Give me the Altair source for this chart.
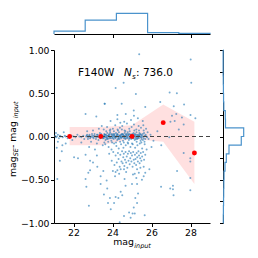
import altair as alt
import pandas as pd

# ---------------- data ----------------
pts_x = [
 21.05,21.10,21.15,21.20,21.25,21.30,21.35,21.45,21.55,21.60,21.70,21.90,22.00,22.10,22.20,22.30,22.40,22.50,22.55,
 21.14,21.43,21.40,21.30,22.03,22.23,22.62,21.94,21.20,21.60,22.40,21.17,21.10,21.50,22.62,
 22.65,22.70,22.75,22.80,22.85,22.90,22.95,23.00,23.05,23.10,23.15,23.20,23.25,23.30,23.35,23.45,23.50,
 22.70,22.90,23.00,23.20,23.30,22.80,23.10,23.00,23.20,22.85,23.17,
 22.66,22.79,22.62,22.76,22.85,23.22,23.53,23.39,23.39,23.60,23.45,23.50,
 23.52,23.55,23.58,23.61,23.64,23.67,23.70,23.73,23.76,23.79,
 23.82,23.85,23.88,23.91,23.94,23.97,24.00,24.03,24.06,24.09,
 24.12,24.15,24.18,24.21,24.24,24.27,24.30,24.33,24.36,24.39,
 24.42,24.45,24.48,24.51,24.54,24.57,24.60,24.63,24.66,24.69,
 24.72,24.75,24.78,24.81,24.84,24.87,24.90,24.93,24.96,24.99,
 25.02,25.05,25.08,25.11,25.14,25.17,25.20,25.23,25.26,25.29,
 25.32,25.35,25.38,25.41,25.44,25.47,25.50,25.55,25.60,25.66,
 23.54,23.62,23.69,23.77,23.84,23.92,23.99,24.05,24.11,24.17,
 24.23,24.29,24.35,24.41,24.47,24.53,24.59,24.65,24.71,24.77,
 24.83,24.89,24.95,25.01,25.07,25.13,25.19,25.25,25.31,25.37,
 25.43,25.49,25.58,25.70,25.78,
 23.55,23.63,23.72,23.80,23.86,23.95,24.02,24.08,24.14,24.20,
 24.26,24.32,24.38,24.44,24.50,24.56,24.62,24.68,24.74,24.80,
 24.86,24.92,24.98,25.04,25.10,25.16,25.22,25.28,25.34,25.40,
 25.46,25.52,25.58,25.64,25.72,25.80,
 23.90,24.25,24.60,24.95,25.30,25.55,24.40,25.10,
 23.83,23.96,24.04,24.10,24.16,24.22,24.28,24.31,24.37,24.40,
 24.46,24.49,24.52,24.55,24.58,24.61,24.64,24.67,24.70,24.73,
 24.76,24.79,24.82,24.85,24.88,24.91,24.94,24.97,25.00,25.03,
 25.06,25.09,25.12,25.15,25.18,25.21,25.24,25.27,25.30,25.33,
 25.36,25.39,25.42,25.45,25.48,25.52,25.57,25.62,25.68,25.75,
 24.02,24.34,24.70,25.05,25.35,25.60,
 23.70,23.73,23.56,23.77,23.91,24.16,24.13,24.25,24.42,24.59,24.62,24.67,24.42,24.16,23.87,24.30,24.50,
 24.59,24.85,24.93,24.08,24.37,25.03,
 25.26,25.43,25.89,25.14,25.22,25.60,25.68,25.51,25.26,25.00,25.31,25.17,25.26,25.09,25.14,25.65,
 26.49,27.10,27.10,27.13,27.31,27.99,27.99,26.96,
 24.16,24.57,23.60,24.47,25.37,28.01,28.04,25.20,26.93,27.30,26.45,25.68,27.14,27.67,25.09,
 27.05,27.27,27.56,26.97,27.19,27.65,28.25,28.00,24.25,24.68,
 25.85,25.95,26.10,26.30,26.91,25.65,27.65,27.99,27.99,26.50,27.40,26.00,
 22.68,22.74,22.82,22.88,22.97,23.03,23.08,23.13,23.19,23.24,23.28,23.33,23.38,23.42,23.47,
 23.57,23.60,23.66,23.71,23.75,23.81,23.87,23.93,24.01,24.07,
 24.13,24.19,24.25,24.31,24.37,24.43,24.49,24.55,24.61,24.67,
 24.73,24.79,24.85,24.91,24.97,25.03,25.09,25.15,25.21,25.27,
 25.33,25.39,25.45,25.51,25.56,25.62,25.68,25.74,
 23.58,23.68,23.78,23.89,23.98,24.07,24.18,24.28,24.39,24.48,
 24.58,24.66,24.78,24.88,25.00,25.12,25.24,25.36,25.48,25.60,
]
pts_y = [
 0.01,-0.01,0.00,0.02,-0.02,0.01,0.00,-0.01,0.01,0.00,-0.02,0.01,0.00,-0.01,0.02,0.00,-0.01,0.01,-0.03,
 -0.13,-0.10,-0.17,-0.28,-0.24,-0.25,-0.21,-0.04,-0.06,-0.08,-0.07,-0.49,0.04,0.05,0.26,
 0.00,0.02,-0.01,0.01,-0.02,0.00,0.03,-0.01,0.01,0.00,-0.03,0.02,0.00,-0.01,0.04,0.01,-0.02,
 0.06,-0.06,0.07,-0.08,0.09,-0.12,-0.15,-0.30,-0.22,-0.28,0.23,
 -0.58,-0.80,-0.49,-0.42,-0.39,-0.35,-0.40,-0.46,-0.55,0.38,0.12,-0.10,
 0.01,-0.02,0.03,0.00,-0.04,0.02,-0.01,0.04,-0.03,0.00,
 0.01,-0.02,0.05,0.00,-0.05,0.02,-0.01,0.03,-0.03,0.01,
 0.00,-0.02,0.04,0.01,-0.04,0.02,-0.01,0.05,-0.03,0.00,
 0.02,-0.02,0.03,0.00,-0.05,0.01,-0.01,0.04,-0.03,0.02,
 0.00,-0.02,0.05,0.01,-0.04,0.03,-0.01,0.02,-0.03,0.00,
 0.03,-0.02,0.04,0.00,-0.04,0.02,-0.01,0.05,-0.03,0.01,
 0.02,-0.02,0.04,0.00,-0.05,0.02,-0.01,0.03,-0.02,0.01,
 -0.01,0.02,-0.03,0.01,0.03,-0.02,0.01,0.00,0.03,-0.01,
 0.02,-0.03,0.01,-0.01,0.02,0.03,-0.02,0.00,0.03,-0.01,
 0.02,-0.02,0.01,-0.01,0.02,0.01,-0.03,0.02,-0.01,0.01,
 0.03,-0.03,0.00,0.02,-0.01,
 0.08,-0.09,0.11,-0.12,0.07,-0.15,0.09,-0.08,0.13,-0.11,
 0.08,-0.14,0.10,-0.09,0.12,-0.13,0.07,-0.10,0.15,-0.08,
 0.09,-0.12,0.11,-0.09,0.14,-0.13,0.08,-0.10,0.12,-0.08,
 0.10,-0.14,0.13,-0.06,0.09,0.05,
 0.18,0.20,0.17,0.19,0.21,0.18,0.16,0.24,
 -0.20,-0.28,-0.18,-0.33,-0.22,-0.30,-0.19,-0.26,-0.35,-0.21,
 -0.29,-0.17,-0.31,-0.24,-0.20,-0.34,-0.27,-0.18,-0.30,-0.23,
 -0.36,-0.20,-0.28,-0.17,-0.32,-0.25,-0.19,-0.29,-0.22,-0.35,
 -0.18,-0.27,-0.31,-0.21,-0.26,-0.33,-0.19,-0.24,-0.29,-0.17,
 -0.22,-0.31,-0.25,-0.19,-0.28,-0.23,-0.18,-0.27,-0.21,-0.15,
 -0.40,-0.43,-0.41,-0.44,-0.42,-0.35,
 -0.51,-0.60,-0.67,-0.77,-0.84,-0.41,-0.46,-0.39,-0.38,-0.38,-0.49,-0.57,-0.64,-0.70,-0.71,-0.71,-0.68,
 -0.92,-0.88,-0.94,-0.77,-0.99,-0.89,
 -0.38,-0.36,-0.38,-0.43,-0.48,-0.46,-0.42,-0.50,-0.55,-0.55,-0.66,-0.71,-0.77,-0.82,-0.89,-0.91,
 -0.58,-0.57,-0.61,-0.68,-0.40,-0.48,-0.62,-0.60,
 0.56,0.62,0.38,0.38,0.95,0.89,0.62,0.49,0.51,0.50,0.40,0.34,0.35,0.37,0.30,
 0.24,0.26,0.22,0.17,0.18,0.14,0.21,0.25,0.25,0.26,
 -0.03,0.02,-0.05,0.06,-0.01,-0.09,-0.19,-0.25,-0.29,-0.10,0.08,-0.12,
 0.01,-0.03,0.02,-0.01,0.01,-0.02,0.03,0.00,-0.01,0.02,-0.04,0.01,-0.02,0.03,0.00,
 0.00,0.02,-0.01,0.01,-0.02,0.02,-0.01,0.03,-0.02,0.02,
 -0.01,0.00,0.03,-0.02,0.01,0.00,-0.01,0.02,0.01,-0.02,
 0.01,0.03,-0.02,0.00,0.02,0.01,-0.02,0.03,0.00,-0.02,
 0.00,0.02,-0.01,0.01,-0.04,0.04,-0.03,0.00,
 -0.07,0.06,-0.06,0.08,-0.07,0.06,-0.07,0.07,-0.06,0.08,
 -0.07,0.06,-0.07,0.06,-0.08,0.07,-0.06,0.07,-0.07,0.07,
]

bin_x = [21.8, 23.4, 25.0, 26.6, 28.2]
bin_mean = [0.0, 0.0, 0.0, 0.16, -0.19]
bin_lo = [-0.10, -0.10, -0.03, -0.06, -0.55]
bin_hi = [0.11, 0.11, 0.13, 0.37, 0.17]

xhist_edges = [21.0, 22.6, 24.2, 25.8, 27.4, 29.0]
xhist_counts = [55, 256, 384, 27, 13]

yhist_edges = [-1.0,-0.9,-0.8,-0.7,-0.6,-0.5,-0.4,-0.3,-0.2,-0.1,0.0,0.1,0.2,0.3,0.4,0.5,0.6,0.7,0.8,0.9,1.0]
yhist_counts = [4,6,8,10,12,15,29,48,87,265,300,36,33,12,8,6,4,2,2,2]

filt = "F140W"
n_src = "736.0"

# ---------------- frames ----------------
df_pts = pd.DataFrame({"x": pts_x, "y": pts_y})
df_bin = pd.DataFrame({"x": bin_x, "m": bin_mean, "lo": bin_lo, "hi": bin_hi})

def step_rows(edges, counts):
    rows = [(edges[0], 0)]
    for i, c in enumerate(counts):
        rows.append((edges[i], c))
        rows.append((edges[i + 1], c))
    rows.append((edges[-1], 0))
    return pd.DataFrame({"v": [r[0] for r in rows], "c": [r[1] for r in rows], "i": list(range(len(rows)))})

df_xh = step_rows(xhist_edges, xhist_counts)
df_yh = step_rows(yhist_edges, yhist_counts)

FONT = "DejaVu Sans"
W, H = 156, 173
BLUE = "#1f77b4"
HCOL = "#4b93cc"

axis_common = dict(grid=False, labelFont=FONT, labelFontSize=9.3, labelColor="black",
                   tickColor="black", domainColor="black", tickSize=3.5, labelPadding=1.5,
                   domainWidth=1, tickWidth=1)

xs = alt.Scale(domain=[21, 29], nice=False, zero=False)
ys = alt.Scale(domain=[-1, 1], nice=False, zero=False)

X = alt.X("x:Q", scale=xs, axis=alt.Axis(values=[22, 24, 26, 28], title=None, format="d", **axis_common))
Y = alt.Y("y:Q", scale=ys, axis=alt.Axis(values=[-1, -0.75, -0.5, -0.25, 0, 0.25, 0.5, 0.75, 1],
                                          title=None, format=".2f", **axis_common))

band = alt.Chart(df_bin).mark_area(color="red", opacity=0.12).encode(
    x=X, y=alt.Y("lo:Q", scale=ys), y2="hi:Q")
scatter = alt.Chart(df_pts).mark_circle(size=4, color=BLUE, opacity=0.6).encode(x=X, y=Y)
zero = alt.Chart(df_bin).mark_rule(strokeDash=[4, 3], color="#444444", strokeWidth=1.1).encode(y=alt.datum(0))
reds = alt.Chart(df_bin).mark_circle(size=24, color="red", opacity=1).encode(x=X, y=alt.Y("m:Q", scale=ys))

one = pd.DataFrame({"a": [0]})

def txt(s, x, y, size, italic=False, angle=0):
    kw = dict(text=s, align="left", baseline="alphabetic", fontSize=size, font=FONT, color="black")
    if italic:
        kw["fontStyle"] = "italic"
    if angle:
        kw["angle"] = angle
    return alt.Chart(one).mark_text(**kw).encode(x=alt.value(x), y=alt.value(y))

texts = [
    txt(filt, 24, 26, 10.5),
    txt("N", 70, 26, 10.5, italic=True),
    txt("s", 78, 28.5, 7.3, italic=True),
    txt(": " + n_src, 82, 26, 10.5),
    # x title
    txt("mag", 59.3, 243 - 48, 9.3),
    txt("input", 80.2, 245.5 - 48, 6.5, italic=True),
    # y title (rotated)
    txt("mag", -38.5, 127, 9.3, angle=270),
    txt("SE", -36, 106.3, 6.5, italic=True, angle=270),
    txt(" - mag", -38.5, 98.1, 9.3, angle=270),
    txt("input", -36, 68.2, 6.5, italic=True, angle=270),
]

main = alt.layer(band, scatter, zero, reds, *texts).properties(width=W, height=H)

top = alt.Chart(df_xh).mark_line(color=HCOL, strokeWidth=1.2).encode(
    x=alt.X("v:Q", scale=xs, axis=alt.Axis(values=[22, 24, 26, 28], labels=False, title=None, **axis_common)),
    y=alt.Y("c:Q", scale=alt.Scale(domain=[0, 408], nice=False), axis=None),
    order="i:Q",
).properties(width=W, height=22)

right = alt.Chart(df_yh).mark_line(color=HCOL, strokeWidth=1.2).encode(
    y=alt.Y("v:Q", scale=ys, axis=alt.Axis(values=[-1, -0.75, -0.5, -0.25, 0, 0.25, 0.5, 0.75, 1],
                                          labels=False, title=None, **axis_common)),
    x=alt.X("c:Q", scale=alt.Scale(domain=[0, 348], nice=False), axis=None),
    order="i:Q",
).properties(width=24, height=H)

row = alt.hconcat(main, right, spacing=13, bounds="flush")
chart = alt.vconcat(top, row, spacing=16, bounds="flush").properties(
    padding={"left": 0, "top": 2, "right": 0, "bottom": 0}
).configure_view(stroke=None)

chart.save("out.html", embed_options={"renderer": "svg", "actions": False})
